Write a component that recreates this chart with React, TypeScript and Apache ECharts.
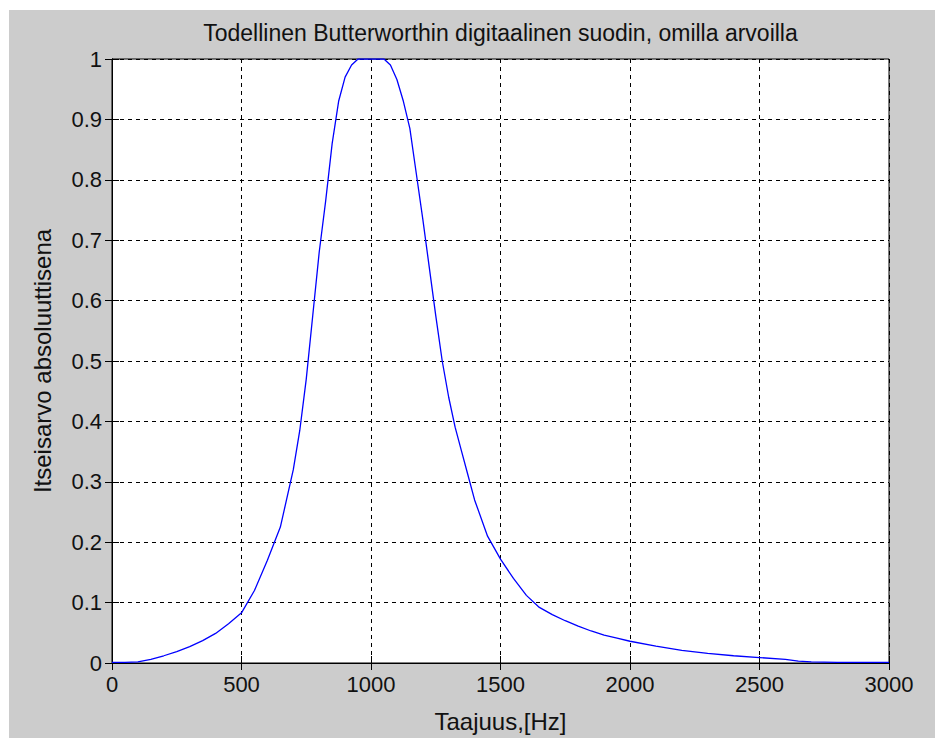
import React, { useEffect, useRef } from "react";
import * as echarts from "echarts";

const titleText = "Todellinen Butterworthin digitaalinen suodin, omilla arvoilla";
const xName = "Taajuus,[Hz]";
const yName = "Itseisarvo absoluuttisena";

const freqHz = [
  0, 50, 100, 150, 200, 250, 300, 350, 400, 450, 500, 550, 600, 650, 700, 725, 750, 775, 800, 825, 850, 875, 900, 925,
  950, 1000, 1050, 1075, 1100, 1125, 1150, 1175, 1200, 1225, 1250, 1275, 1300, 1325, 1350, 1375, 1400, 1450, 1500,
  1550, 1600, 1650, 1700, 1750, 1800, 1850, 1900, 1950, 2000, 2100, 2200, 2300, 2400, 2500, 2600, 2650, 2700, 2800, 3000,
];
const magnitude = [
  0.001, 0.001, 0.002, 0.006, 0.012, 0.019, 0.027, 0.037, 0.049, 0.065, 0.083, 0.12, 0.17, 0.225, 0.32, 0.385, 0.47,
  0.575, 0.68, 0.765, 0.86, 0.93, 0.97, 0.99, 1.0, 1.0, 1.0, 0.99, 0.966, 0.93, 0.885, 0.81, 0.735, 0.655, 0.575, 0.5,
  0.44, 0.39, 0.35, 0.31, 0.27, 0.21, 0.172, 0.14, 0.112, 0.092, 0.08, 0.07, 0.061, 0.053, 0.046, 0.041, 0.036, 0.028,
  0.021, 0.016, 0.012, 0.009, 0.006, 0.003, 0.002, 0.001, 0.001,
];

export default function App() {
  const ref = useRef<HTMLDivElement>(null);
  useEffect(() => {
    if (!ref.current) return;
    const chart = echarts.init(ref.current, undefined, { renderer: "svg" });
    const font = "'Liberation Sans', Arial, sans-serif";
    const tickStyle = { show: true, inside: true, length: 7, lineStyle: { color: "#000", width: 1 } };
    const axisLine = { show: true, lineStyle: { color: "#000", width: 1 } };
    const grid = { left: 103, top: 49, right: 46, bottom: 67 };
    chart.setOption({
      animation: false,
      backgroundColor: "#cccccc",
      textStyle: { fontFamily: font },
      grid: { ...grid, show: true, backgroundColor: "#ffffff", borderColor: "#000", borderWidth: 1 },
      graphic: [
        {
          type: "text",
          x: 491.5,
          y: 11,
          style: {
            text: titleText,
            font: `23px ${font}`,
            fill: "#111",
            textAlign: "center",
            textVerticalAlign: "top",
          },
        },
      ],
      xAxis: [
        {
          type: "value",
          min: 0,
          max: 3000,
          interval: 500,
          position: "bottom",
          name: xName,
          nameLocation: "middle",
          nameGap: 46,
          nameTextStyle: { color: "#111", fontSize: 24, fontFamily: font },
          axisLine,
          axisTick: tickStyle,
          axisLabel: {
            color: "#111",
            fontSize: 22,
            margin: 10,
            fontFamily: font,
            formatter: (v: number) => String(v),
          },
          splitLine: { show: true, lineStyle: { color: "#000", width: 1, type: [4, 4] } },
        },
        {
          type: "value",
          min: 0,
          max: 3000,
          interval: 500,
          position: "top",
          axisLine,
          axisTick: tickStyle,
          axisLabel: { show: false },
          splitLine: { show: false },
        },
      ],
      yAxis: [
        {
          type: "value",
          min: 0,
          max: 1,
          interval: 0.1,
          position: "left",
          name: yName,
          nameLocation: "middle",
          nameGap: 58,
          nameTextStyle: { color: "#111", fontSize: 24, fontFamily: font },
          axisLine,
          axisTick: tickStyle,
          axisLabel: {
            color: "#111",
            fontSize: 22,
            margin: 10,
            fontFamily: font,
            formatter: (v: number) => String(Math.round(v * 10) / 10),
          },
          splitLine: { show: true, lineStyle: { color: "#000", width: 1, type: [4, 4] } },
        },
        {
          type: "value",
          min: 0,
          max: 1,
          interval: 0.1,
          position: "right",
          axisLine,
          axisTick: tickStyle,
          axisLabel: { show: false },
          splitLine: { show: false },
        },
      ],
      series: [
        {
          type: "line",
          xAxisIndex: 0,
          yAxisIndex: 0,
          data: freqHz.map((f, i) => [f, magnitude[i]]),
          showSymbol: false,
          smooth: false,
          lineStyle: { color: "#0000ff", width: 1.3 },
          itemStyle: { color: "#0000ff" },
          z: 5,
        },
      ],
    });
    return () => chart.dispose();
  }, []);
  return (
    <div style={{ position: "absolute", left: 0, top: 0, width: 935, height: 738, background: "#ffffff" }}>
      <div ref={ref} style={{ position: "absolute", left: 9, top: 10, width: 926, height: 728 }} />
    </div>
  );
}
